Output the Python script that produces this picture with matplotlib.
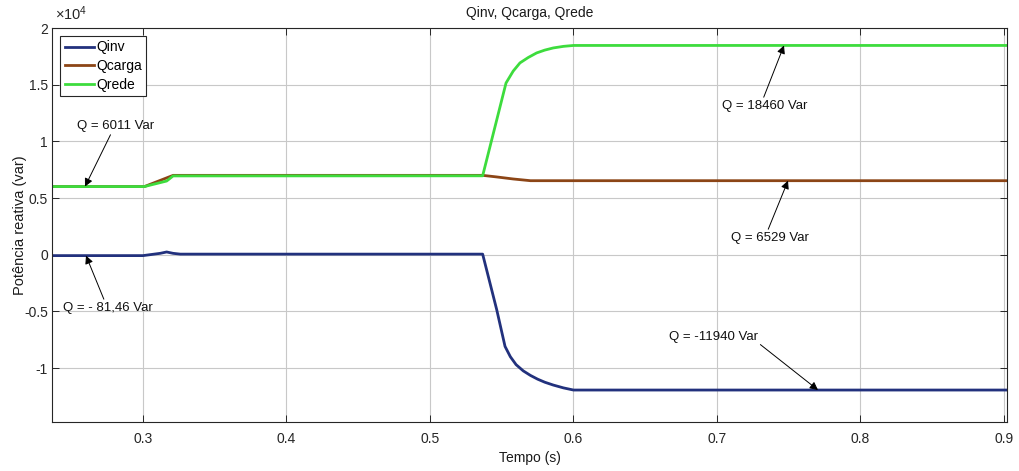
import matplotlib
matplotlib.use("Agg")
import matplotlib.pyplot as plt
import numpy as np

# Reactive power traces (time in s, Q in var)
t_inv = [0.2366, 0.300, 0.306, 0.312, 0.3165, 0.321, 0.326, 0.5367, 0.5465,
         0.5523, 0.5560, 0.5600, 0.5650, 0.5700, 0.5750, 0.5800, 0.5859, 0.5930, 0.600, 0.9021]
q_inv = [-81, -81, 20, 120, 240, 120, 50, 50, -4850,
         -8090, -9000, -9700, -10250, -10650, -10980, -11250, -11500, -11750, -11940, -11940]

t_carga = [0.2366, 0.301, 0.321, 0.5367, 0.5465, 0.558, 0.570, 0.9021]
q_carga = [6011, 6011, 7000, 7000, 6860, 6680, 6529, 6529]

t_rede = [0.2366, 0.301, 0.3165, 0.321, 0.5367, 0.553, 0.5580, 0.5627, 0.5685, 0.5743,
          0.580, 0.5859, 0.593, 0.600, 0.9021]
q_rede = [6011, 6011, 6500, 6950, 6960, 15150, 16200, 16920, 17400, 17800,
          18050, 18240, 18380, 18460, 18460]

series_names = ["Qinv", "Qcarga", "Qrede"]
series_colors = ["#22317d", "#8c4516", "#3ddc3d"]

x_ticks = [0.3, 0.4, 0.5, 0.6, 0.7, 0.8, 0.9]
y_ticks = [-10000, -5000, 0, 5000, 10000, 15000, 20000]
y_tick_labels = ["-1", "-0.5", "0", "0.5", "1", "1.5", "2"]

# Marked values: (label, time, value, text position, arrow anchor on text)
marks = [
    ("Q = 6011 Var", 0.2596, 6011, (0.2810, 11355), (0.45, 0.0)),
    ("Q = - 81,46 Var", 0.2603, -81.46, (0.2754, -4700), (0.47, 1.0)),
    ("Q = 18460 Var", 0.7467, 18460, (0.7330, 13120), (0.48, 1.0)),
    ("Q = 6529 Var", 0.7495, 6529, (0.7371, 1473), (0.46, 1.0)),
    ("Q = -11940 Var", 0.7704, -11940, (0.6973, -7260), (1.0, 0.05)),
]

plt.rcParams["font.family"] = ["Liberation Sans", "DejaVu Sans"]
plt.rcParams["mathtext.fontset"] = "custom"
plt.rcParams["mathtext.rm"] = "Liberation Sans"
plt.rcParams["mathtext.it"] = "Liberation Sans:italic"

fig = plt.figure(figsize=(10.19, 4.71), dpi=100)
ax = fig.add_axes([52 / 1019, 1 - 422 / 471, (1007 - 52) / 1019, (422 - 28) / 471])

for t, q, name, c in zip([t_inv, t_carga, t_rede], [q_inv, q_carga, q_rede],
                         series_names, series_colors):
    ax.plot(t, q, color=c, lw=2.0, label=name)

ax.set_xlim(0.2366, 0.9021)
ax.set_ylim(-14760, 20000)
ax.set_xticks(x_ticks)
ax.set_xticklabels([f"{v:g}" for v in x_ticks])
ax.set_yticks(y_ticks)
ax.set_yticklabels(y_tick_labels)

tick_col = "#262626"
ax.grid(True, color="#c8c8c8", lw=0.8)
ax.set_axisbelow(True)
ax.tick_params(direction="in", top=True, right=True, length=5, width=0.7,
               colors=tick_col, labelsize=10, labelcolor=tick_col)
ax.tick_params(axis="x", pad=7)
ax.tick_params(axis="y", pad=3)
for s in ax.spines.values():
    s.set_color(tick_col)
    s.set_linewidth(0.8)

ax.set_title("Qinv, Qcarga, Qrede", fontsize=10, color="#1a1a1a", pad=8)
ax.set_xlabel("Tempo (s)", fontsize=10, color="#1a1a1a", labelpad=4)
ax.set_ylabel("Potência reativa (var)", fontsize=10.5, color="#1a1a1a", labelpad=-2)
ax.text(0.003, 1.012, r"$\times10^{4}$", transform=ax.transAxes, fontsize=10.5,
        color=tick_col, ha="left", va="bottom")

leg = ax.legend(loc="upper left", bbox_to_anchor=(0.0, 1.0), fontsize=10,
                handlelength=2.1, handletextpad=0.2, borderpad=0.3,
                labelspacing=0.33, borderaxespad=0.6, fancybox=False,
                framealpha=1.0, edgecolor=tick_col)
leg.get_frame().set_linewidth(0.8)

for label, tx, qv, (xt, yt), rel in marks:
    ax.annotate(label, xy=(tx, qv), xytext=(xt, yt), fontsize=9.5,
                ha="center", va="center", color="#111111",
                arrowprops=dict(arrowstyle="-|>", color="black", lw=0.7,
                                mutation_scale=12, shrinkA=0, shrinkB=0,
                                relpos=rel))

fig.savefig("out.png", dpi=100)
